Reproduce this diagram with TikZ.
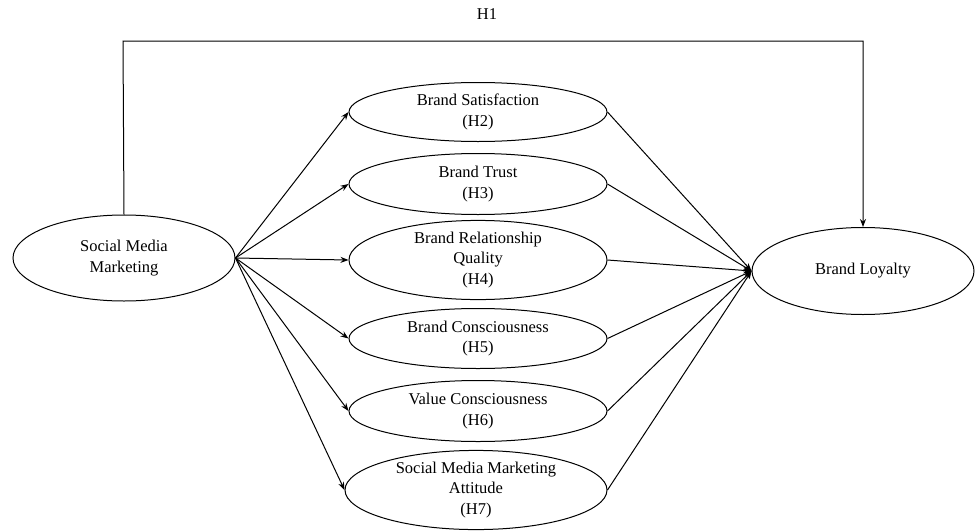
\documentclass[tikz,border=0pt]{standalone}
\usepackage{fontspec}
\setmainfont{Liberation Serif}
\usetikzlibrary{shapes.geometric,arrows.meta}
\begin{document}
\begin{tikzpicture}[x=1pt,y=-1pt,
  construct/.style={draw, ellipse, line width=1pt, inner sep=0pt, align=center,
    font=\fontsize{16.5}{20.5}\selectfont},
  path/.style={line width=1pt, -{Stealth[length=8pt,width=6pt]}}]
\useasboundingbox (0,0) rectangle (976,530);
% exogenous and outcome constructs
\node[construct, minimum width=222pt, minimum height=86pt] (smm) at (124,258) {Social Media\\Marketing};
\node[construct, minimum width=222pt, minimum height=87pt] (bl) at (863,271) {Brand Loyalty};
% mediating constructs
\node[construct, minimum width=258pt, minimum height=59pt] (bs) at (478,112) {Brand Satisfaction\\(H2)};
\node[construct, minimum width=258pt, minimum height=61pt] (bt) at (478,184) {Brand Trust\\(H3)};
\node[construct, minimum width=258pt, minimum height=74pt] (brq) at (478,260) {Brand Relationship\\Quality\\(H4)};
\node[construct, minimum width=258pt, minimum height=60pt] (bc) at (478,338.5) {Brand Consciousness\\(H5)};
\node[construct, minimum width=258pt, minimum height=61pt] (vc) at (478,411) {Value Consciousness\\(H6)};
\node[construct, minimum width=262pt, minimum height=70pt] (sma) at (476,490) {Social Media Marketing\\Attitude\\(H7)};
% direct effect H1
\coordinate (h1l) at (123,41);
\coordinate (h1r) at (863,41);
\node[font=\fontsize{16.5}{20.5}\selectfont] (h1) at (487,14) {H1};
\draw[path] (smm.north) -- (h1l) -- (h1r) -- (bl.north);
% indirect paths
\foreach \m in {bs,bt,brq,bc,vc,sma}{
  \draw[path] (smm.east) -- (\m.west);
  \draw[path] (\m.east) -- (bl.west);
}
\end{tikzpicture}
\end{document}
